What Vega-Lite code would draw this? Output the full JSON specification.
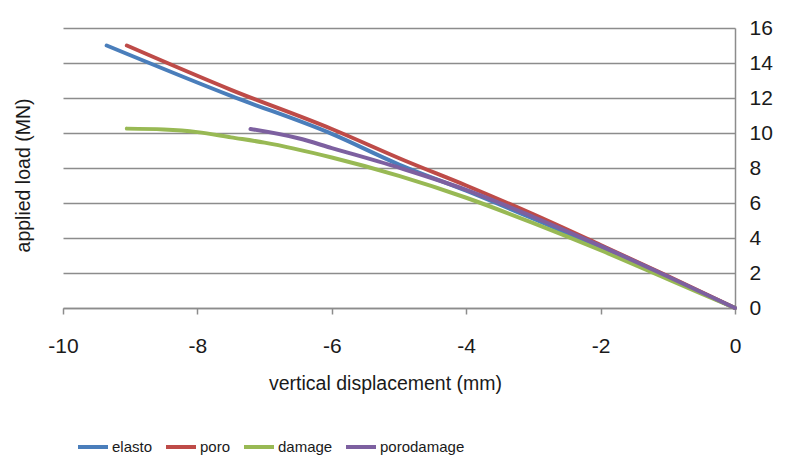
{
  "$schema": "https://vega.github.io/schema/vega-lite/v6.json",
  "width": 672,
  "height": 280,
  "autosize": {"type": "none"},
  "padding": {"left": 63, "top": 28, "right": 61, "bottom": 166},
  "background": "white",
  "config": {
    "view": {"stroke": null},
    "font": "Liberation Sans"
  },
  "data": {
    "values": [
      {"series": "elasto", "disp": -9.35, "load": 15.0},
      {"series": "elasto", "disp": -7.5, "load": 12.12},
      {"series": "elasto", "disp": -6.0, "load": 9.95},
      {"series": "elasto", "disp": -5.0, "load": 8.2},
      {"series": "elasto", "disp": -4.0, "load": 6.7},
      {"series": "elasto", "disp": -3.0, "load": 5.1},
      {"series": "elasto", "disp": -2.0, "load": 3.45},
      {"series": "elasto", "disp": -1.0, "load": 1.75},
      {"series": "elasto", "disp": 0.0, "load": 0.0},
      {"series": "poro", "disp": -9.05, "load": 15.0},
      {"series": "poro", "disp": -7.5, "load": 12.47},
      {"series": "poro", "disp": -6.0, "load": 10.23},
      {"series": "poro", "disp": -4.9, "load": 8.4},
      {"series": "poro", "disp": -4.0, "load": 7.0},
      {"series": "poro", "disp": -3.0, "load": 5.35},
      {"series": "poro", "disp": -2.0, "load": 3.6},
      {"series": "poro", "disp": -1.0, "load": 1.82},
      {"series": "poro", "disp": 0.0, "load": 0.0},
      {"series": "damage", "disp": -9.05, "load": 10.25},
      {"series": "damage", "disp": -8.5, "load": 10.2},
      {"series": "damage", "disp": -8.0, "load": 10.05},
      {"series": "damage", "disp": -7.5, "load": 9.75},
      {"series": "damage", "disp": -7.0, "load": 9.45},
      {"series": "damage", "disp": -6.0, "load": 8.6},
      {"series": "damage", "disp": -5.0, "load": 7.55},
      {"series": "damage", "disp": -4.0, "load": 6.3},
      {"series": "damage", "disp": -3.0, "load": 4.85},
      {"series": "damage", "disp": -2.0, "load": 3.3},
      {"series": "damage", "disp": -1.0, "load": 1.65},
      {"series": "damage", "disp": 0.0, "load": 0.0},
      {"series": "porodamage", "disp": -7.21, "load": 10.23},
      {"series": "porodamage", "disp": -6.5, "load": 9.7},
      {"series": "porodamage", "disp": -6.0, "load": 9.14},
      {"series": "porodamage", "disp": -4.9, "load": 7.9},
      {"series": "porodamage", "disp": -4.0, "load": 6.75},
      {"series": "porodamage", "disp": -3.0, "load": 5.2},
      {"series": "porodamage", "disp": -2.0, "load": 3.55},
      {"series": "porodamage", "disp": -1.0, "load": 1.8},
      {"series": "porodamage", "disp": 0.0, "load": 0.0}
    ]
  },
  "mark": {"type": "line", "strokeWidth": 4, "interpolate": "monotone", "strokeCap": "round"},
  "encoding": {
    "x": {
      "field": "disp",
      "type": "quantitative",
      "scale": {"domain": [-10, 0], "nice": false, "zero": false},
      "axis": {
        "title": "vertical displacement (mm)",
        "values": [-10, -8, -6, -4, -2, 0],
        "labelExpr": "replace(datum.label, '−', '-')",
        "grid": false,
        "domainColor": "#8c8c8c",
        "domainWidth": 1.5,
        "tickColor": "#8c8c8c",
        "tickWidth": 1.5,
        "tickSize": 6,
        "labelFontSize": 21,
        "labelColor": "#1a1a1a",
        "labelPadding": 21,
        "labelFlush": false,
        "titleFontSize": 19.5,
        "titleFontWeight": "normal",
        "titleColor": "#1a1a1a",
        "titlePadding": 18,
        "titleX": 322
      }
    },
    "y": {
      "field": "load",
      "type": "quantitative",
      "scale": {"domain": [0, 16], "nice": false},
      "axis": {
        "orient": "right",
        "values": [0, 2, 4, 6, 8, 10, 12, 14, 16],
        "grid": true,
        "gridColor": "#8c8c8c",
        "gridWidth": 1.5,
        "domainColor": "#8c8c8c",
        "domainWidth": 1.5,
        "ticks": false,
        "labelFontSize": 21,
        "labelColor": "#1a1a1a",
        "labelPadding": 14,
        "labelFlush": false,
        "title": "applied load (MN)",
        "titleFontSize": 19.5,
        "titleFontWeight": "normal",
        "titleColor": "#1a1a1a",
        "titleAngle": -90,
        "titleX": -712,
        "titleY": 147,
        "titleAlign": "center",
        "titleBaseline": "middle"
      }
    },
    "color": {
      "field": "series",
      "type": "nominal",
      "sort": ["elasto", "poro", "damage", "porodamage"],
      "scale": {
        "domain": ["elasto", "poro", "damage", "porodamage"],
        "range": ["#4A7EBB", "#BE4B48", "#98B954", "#7D60A0"]
      },
      "legend": {
        "title": null,
        "orient": "none",
        "direction": "horizontal",
        "legendX": 13,
        "legendY": 402,
        "symbolType": "stroke",
        "symbolSize": 900,
        "symbolStrokeWidth": 4,
        "labelFontSize": 15,
        "labelColor": "#1a1a1a",
        "labelOffset": 2,
        "columnPadding": 5
      }
    }
  }
}
